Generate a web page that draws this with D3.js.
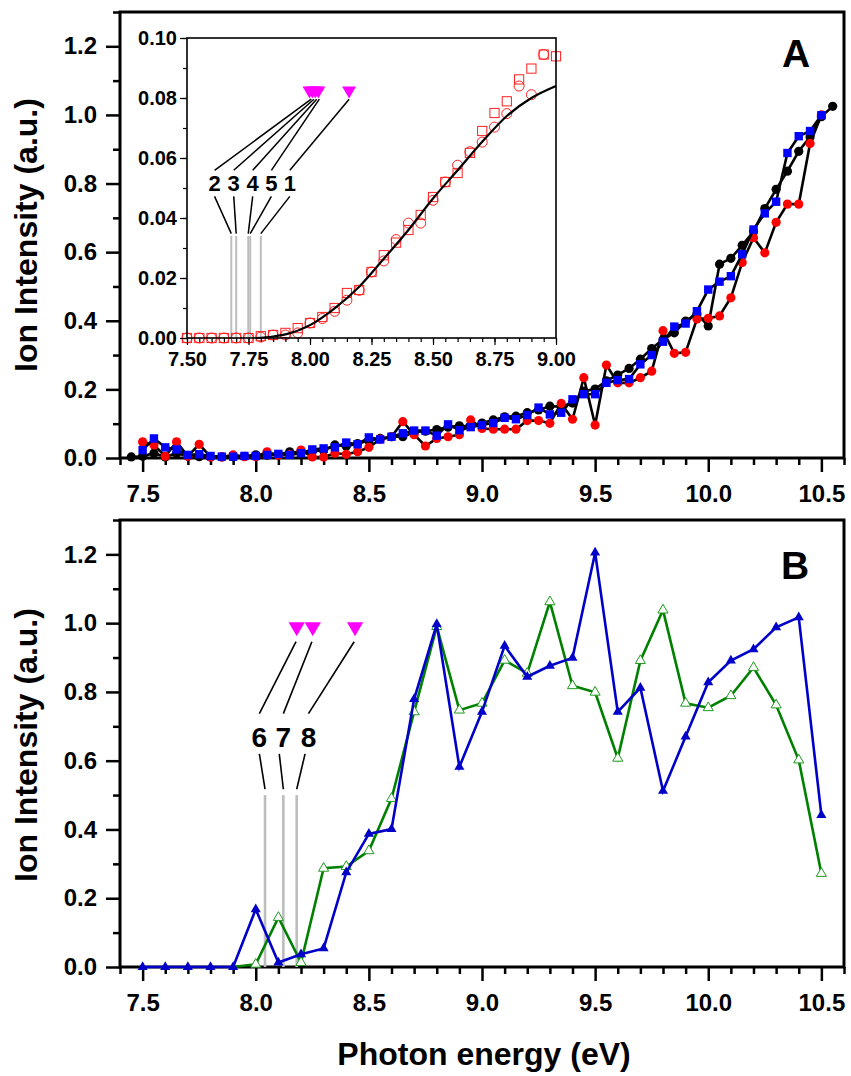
<!DOCTYPE html>
<html>
<head>
<meta charset="utf-8">
<script src="https://cdn.jsdelivr.net/npm/d3@7"></script>
<style>
  body { margin: 0; background: #fff; }
  svg text { font-family: "Liberation Sans", Arial, sans-serif; font-weight: bold; fill: #000; }
</style>
</head>
<body>
<svg id="chart" width="851" height="1076"></svg>
<script>
// ---- panel A, main data (0.05 eV steps)
const energyA = [7.45,7.50,7.55,7.60,7.65,7.70,7.75,7.80,7.85,7.90,7.95,
  8.00,8.05,8.10,8.15,8.20,8.25,8.30,8.35,8.40,8.45,
  8.50,8.55,8.60,8.65,8.70,8.75,8.80,8.85,8.90,8.95,
  9.00,9.05,9.10,9.15,9.20,9.25,9.30,9.35,9.40,9.45,
  9.50,9.55,9.60,9.65,9.70,9.75,9.80,9.85,9.90,9.95,
  10.00,10.05,10.10,10.15,10.20,10.25,10.30,10.35,10.40,10.45,
  10.50,10.55];
const blackA = [0.003,0.005,0.014,0.003,0.014,0.005,0.004,0.003,0.003,0.004,0.005,
  0.009,0.008,0.010,0.018,0.015,0.020,0.022,0.038,0.034,0.042,
  0.050,0.057,0.062,0.062,0.075,0.078,0.083,0.090,0.094,0.092,
  0.102,0.111,0.120,0.122,0.132,0.140,0.151,0.150,0.160,0.195,
  0.201,0.225,0.242,0.261,0.288,0.319,0.345,0.365,0.399,0.420,
  0.385,0.565,0.582,0.620,0.660,0.727,0.783,0.836,0.894,0.936,
  0.995,1.025];
const blueA = [null,0.023,0.057,0.031,0.025,0.009,0.011,0.006,0.004,0.004,0.006,
  0.006,0.009,0.012,0.009,0.014,0.025,0.028,0.031,0.045,0.040,
  0.060,0.054,0.062,0.072,0.080,0.080,0.065,0.098,0.081,0.090,
  0.096,0.102,0.117,0.113,0.125,0.147,0.127,0.132,0.171,0.186,
  0.186,0.219,0.227,0.230,0.273,0.300,0.339,0.383,0.392,0.428,
  0.491,0.514,0.530,0.594,0.666,0.713,0.747,0.889,0.938,0.953,
  0.999,null];
const redA = [null,0.047,0.038,0.005,0.047,0.005,0.040,0.003,0.003,0.009,0.004,
  0.004,0.018,0.008,0.010,0.023,0.003,0.003,0.014,0.011,0.018,
  0.031,0.055,0.062,0.106,0.068,0.035,0.057,0.062,0.068,0.111,
  0.086,0.084,0.084,0.084,0.109,0.109,0.101,0.159,0.113,0.234,
  0.096,0.271,0.219,0.219,0.234,0.253,0.371,0.305,0.308,0.405,
  0.407,0.414,0.467,0.570,0.642,0.598,0.687,0.740,0.740,0.917,
  1.000,null];

// ---- inset data
const insetE = [7.50,7.55,7.60,7.65,7.70,7.75,7.80,7.85,7.90,7.95,
  8.00,8.05,8.10,8.15,8.20,8.25,8.30,8.35,8.40,8.45,
  8.50,8.55,8.60,8.65,8.70,8.75,8.80,8.85,8.90,8.95,9.00];
const insetSquares = [0,0,0,0,0,0,0.0006,0.001,0.0017,0.0033,
  0.005,0.007,0.010,0.015,0.016,0.022,0.0276,0.0318,0.036,0.041,
  0.047,0.052,0.055,0.0617,0.069,0.075,0.0789,0.0862,0.0898,0.0945,0.0939];
const insetCircles = [0,0,0,0,0,0,0.0003,0.001,0.001,0.0017,
  0.005,0.0065,0.0089,0.0126,0.0159,0.022,0.0257,0.0328,0.0383,0.0383,
  0.0459,0.052,0.0576,0.0621,0.0653,0.0703,0.0748,0.084,0.0811,0.0945,null];
const fitE = [7.78,7.85,7.90,8.00,8.10,8.20,8.30,8.40,8.50,8.60,8.70,8.80,8.90,9.00];
const fitV = [0,0.0005,0.0012,0.0043,0.0099,0.0171,0.0264,0.0360,0.0465,0.0559,0.0654,0.0740,0.0800,0.0840];

// inset annotations (data units of the inset)
const insetLabels = ["2","3","4","5","1"];
const insetLabelE = [7.612,7.690,7.767,7.843,7.918];
const insetGreyE = [7.680,7.700,7.749,7.757,7.800];
const insetTriE = [8.005,8.016,8.027,8.038,8.159];
const insetMarkE = [7.998,8.010,8.022,8.034,8.159];

// ---- panel B data (0.1 eV steps)
const energyB = [7.5,7.6,7.7,7.8,7.9,8.0,8.1,8.2,8.3,8.4,8.5,8.6,8.7,8.8,8.9,
  9.0,9.1,9.2,9.3,9.4,9.5,9.6,9.7,9.8,9.9,10.0,10.1,10.2,10.3,10.4,10.5];
const blueB = [0,0,0,0,0,0.168,0.013,0.037,0.054,0.275,0.387,0.401,0.779,0.997,0.582,
  0.742,0.934,0.844,0.876,0.899,1.205,0.742,0.812,0.512,0.670,0.828,0.891,0.924,0.988,1.017,0.442];
const greenB = [null,null,null,null,0,0.008,0.144,0.013,0.287,0.292,0.338,0.490,0.742,0.990,0.747,
  0.767,0.892,0.854,1.062,0.818,0.799,0.607,0.891,1.038,0.767,0.754,0.789,0.871,0.762,0.602,0.272];

const bLabels = ["6","7","8"];
const bLabelE = [8.016,8.122,8.233];
const bLowE = [8.016,8.104,8.218];
const bGreyE = [8.041,8.122,8.181];
const bTriE = [8.178,8.248,8.435];
const bMarkE = [8.181,8.252,8.439];

const xMajor = [7.5,8.0,8.5,9.0,9.5,10.0,10.5];
const xMinor = [7.4,7.6,7.7,7.8,7.9,8.1,8.2,8.3,8.4,8.6,8.7,8.8,8.9,9.1,9.2,9.3,9.4,
  9.6,9.7,9.8,9.9,10.1,10.2,10.3,10.4,10.6];
const yMajor = [0,0.2,0.4,0.6,0.8,1.0,1.2];
const yMinor = [0.1,0.3,0.5,0.7,0.9,1.1,1.3];
const inXMajor = [7.5,7.75,8.0,8.25,8.5,8.75,9.0];
const inYMajor = [0,0.02,0.04,0.06,0.08,0.10];

const svg = d3.select("#chart");

const xA = d3.scaleLinear().domain([7.4, 10.6]).range([120, 844]);
const yA = d3.scaleLinear().domain([0, 1.3]).range([458, 12]);
const yB = d3.scaleLinear().domain([0, 1.3]).range([967, 520]);
const xI = d3.scaleLinear().domain([7.5, 9.0]).range([187, 556]);
const yI = d3.scaleLinear().domain([0, 0.10]).range([338, 38]);

function styleAxis(g, w, fs) {
  g.select(".domain").remove();
  g.selectAll(".tick line").attr("stroke", "#000").attr("stroke-width", w);
  g.selectAll("text").style("font-size", fs + "px");
}

function mainAxes(y, top, bottom) {
  const gx = svg.append("g").attr("transform", "translate(0," + bottom + ")");
  gx.append("g").call(d3.axisBottom(xA).tickValues(xMinor).tickSize(7).tickFormat(""))
    .call(g => styleAxis(g, 2.5, 24));
  gx.append("g").call(d3.axisBottom(xA).tickValues(xMajor).tickSize(14).tickPadding(13)
      .tickFormat(d3.format(".1f")))
    .call(g => styleAxis(g, 2.5, 24));
  const gy = svg.append("g").attr("transform", "translate(120,0)");
  gy.append("g").call(d3.axisLeft(y).tickValues(yMinor).tickSize(7).tickFormat(""))
    .call(g => styleAxis(g, 2.5, 24));
  gy.append("g").call(d3.axisLeft(y).tickValues(yMajor).tickSize(14).tickPadding(9)
      .tickFormat(d3.format(".1f")))
    .call(g => styleAxis(g, 2.5, 24));
  svg.append("rect").attr("x", 120).attr("y", top).attr("width", 724).attr("height", bottom - top)
    .attr("fill", "none").attr("stroke", "#000").attr("stroke-width", 3);
}

mainAxes(yA, 12, 458);
mainAxes(yB, 520, 967);

// ---- panel A series
const lineA = d3.line().defined(d => d[1] != null).x(d => xA(d[0])).y(d => yA(d[1]));
function seriesA(vals, color, shape) {
  const pts = energyA.map((e, i) => [e, vals[i]]);
  svg.append("path").datum(pts).attr("d", lineA)
    .attr("fill", "none").attr("stroke", "#000").attr("stroke-width", 2.6);
  const p = pts.filter(d => d[1] != null);
  if (shape === "circle") {
    svg.append("g").selectAll("circle").data(p).join("circle")
      .attr("cx", d => xA(d[0])).attr("cy", d => yA(d[1])).attr("r", 4.6).attr("fill", color);
  } else {
    svg.append("g").selectAll("rect").data(p).join("rect")
      .attr("x", d => xA(d[0]) - 4.2).attr("y", d => yA(d[1]) - 4.2)
      .attr("width", 8.4).attr("height", 8.4).attr("fill", color);
  }
}
seriesA(blackA, "#000", "circle");
seriesA(redA, "#ff0000", "circle");
seriesA(blueA, "#0000ff", "square");

svg.append("text").attr("x", 796).attr("y", 67).attr("text-anchor", "middle")
  .style("font-size", "39px").text("A");
svg.append("text").attr("x", 795).attr("y", 579).attr("text-anchor", "middle")
  .style("font-size", "39px").text("B");

// ---- inset
svg.append("rect").attr("x", 187).attr("y", 38).attr("width", 369).attr("height", 300).attr("fill", "#fff");

svg.append("g").selectAll("line").data(insetGreyE).join("line")
  .attr("x1", d => xI(d)).attr("x2", d => xI(d)).attr("y1", yI(0.034)).attr("y2", yI(0))
  .attr("stroke", "#bdbdbd").attr("stroke-width", 2);

svg.append("g").selectAll("rect").data(insetE.map((e, i) => [e, insetSquares[i]]).filter(d => d[1] != null))
  .join("rect")
  .attr("x", d => xI(d[0]) - 4.6).attr("y", d => yI(d[1]) - 4.6).attr("width", 9.2).attr("height", 9.2)
  .attr("fill", "none").attr("stroke", "#ff2020").attr("stroke-width", 1);
svg.append("g").selectAll("circle").data(insetE.map((e, i) => [e, insetCircles[i]]).filter(d => d[1] != null))
  .join("circle")
  .attr("cx", d => xI(d[0])).attr("cy", d => yI(d[1])).attr("r", 5)
  .attr("fill", "none").attr("stroke", "#ff2020").attr("stroke-width", 1);

svg.append("path").datum(fitE.map((e, i) => [e, fitV[i]]))
  .attr("d", d3.line().x(d => xI(d[0])).y(d => yI(d[1])).curve(d3.curveMonotoneX))
  .attr("fill", "none").attr("stroke", "#000").attr("stroke-width", 2.2);

const gix = svg.append("g").attr("transform", "translate(0,338)");
gix.append("g").call(d3.axisBottom(xI).ticks(30).tickSize(4).tickFormat(""))
  .call(g => styleAxis(g, 1.2, 20));
gix.append("g").call(d3.axisBottom(xI).tickValues(inXMajor).tickSize(7).tickPadding(7)
    .tickFormat(d3.format(".2f")))
  .call(g => styleAxis(g, 1.2, 20));
const giy = svg.append("g").attr("transform", "translate(187,0)");
giy.append("g").call(d3.axisLeft(yI).ticks(10).tickSize(4).tickFormat(""))
  .call(g => styleAxis(g, 1.2, 20));
giy.append("g").call(d3.axisLeft(yI).tickValues(inYMajor).tickSize(7).tickPadding(3)
    .tickFormat(d3.format(".2f")))
  .call(g => styleAxis(g, 1.2, 20));
svg.append("rect").attr("x", 187).attr("y", 38).attr("width", 369).attr("height", 300)
  .attr("fill", "none").attr("stroke", "#000").attr("stroke-width", 1.6);

// inset annotation
const downTri = s => d3.symbol(d3.symbolTriangle, s);
svg.append("g").selectAll("path").data(insetMarkE).join("path")
  .attr("d", downTri(85))
  .attr("transform", d => "translate(" + xI(d) + "," + yI(0.0825) + ") rotate(180)")
  .attr("fill", "#ff00ff");
const annI = svg.append("g").attr("stroke", "#000").attr("stroke-width", 1.5);
insetLabels.forEach((t, i) => {
  annI.append("line").attr("x1", xI(insetLabelE[i])).attr("y1", yI(0.0559))
    .attr("x2", xI(insetTriE[i])).attr("y2", yI(0.0796));
  annI.append("line").attr("x1", xI(insetLabelE[i])).attr("y1", yI(0.0472))
    .attr("x2", xI(insetGreyE[i])).attr("y2", yI(0.0348));
  svg.append("text").attr("x", xI(insetLabelE[i])).attr("y", yI(0.049))
    .attr("text-anchor", "middle").style("font-size", "22px").text(t);
});

// ---- panel B series
svg.append("g").selectAll("line").data(bGreyE).join("line")
  .attr("x1", d => xA(d)).attr("x2", d => xA(d)).attr("y1", yB(0.5)).attr("y2", yB(0))
  .attr("stroke", "#bdbdbd").attr("stroke-width", 2.6);

const lineB = d3.line().defined(d => d[1] != null).x(d => xA(d[0])).y(d => yB(d[1]));
const gPts = energyB.map((e, i) => [e, greenB[i]]);
const bPts = energyB.map((e, i) => [e, blueB[i]]);
svg.append("path").datum(gPts).attr("d", lineB)
  .attr("fill", "none").attr("stroke", "#008000").attr("stroke-width", 2.6);
svg.append("g").selectAll("path").data(gPts.filter(d => d[1] != null && d[0] > 7.95)).join("path")
  .attr("d", d3.symbol(d3.symbolTriangle, 44))
  .attr("transform", d => "translate(" + xA(d[0]) + "," + yB(d[1]) + ")")
  .attr("fill", "#fff").attr("stroke", "#1f9a1f").attr("stroke-width", 1);
svg.append("path").datum(bPts).attr("d", lineB)
  .attr("fill", "none").attr("stroke", "#0000c8").attr("stroke-width", 2.6);
svg.append("g").selectAll("path").data(bPts).join("path")
  .attr("d", d3.symbol(d3.symbolTriangle, 44))
  .attr("transform", d => "translate(" + xA(d[0]) + "," + yB(d[1]) + ")")
  .attr("fill", "#0000c8");

svg.append("g").selectAll("path").data(bMarkE).join("path")
  .attr("d", downTri(115))
  .attr("transform", d => "translate(" + xA(d) + "," + yB(0.989) + ") rotate(180)")
  .attr("fill", "#ff00ff");
const annB = svg.append("g").attr("stroke", "#000").attr("stroke-width", 1.6);
bLabels.forEach((t, i) => {
  annB.append("line").attr("x1", xA(bLabelE[i])).attr("y1", yB(0.737))
    .attr("x2", xA(bTriE[i])).attr("y2", yB(0.946));
  annB.append("line").attr("x1", xA(bLowE[i])).attr("y1", yB(0.620))
    .attr("x2", xA(bGreyE[i])).attr("y2", yB(0.517));
  svg.append("text").attr("x", xA(bLabelE[i])).attr("y", yB(0.640))
    .attr("text-anchor", "middle").style("font-size", "28px").text(t);
});

// ---- axis titles
svg.append("text").attr("transform", "translate(37,235) rotate(-90)")
  .attr("text-anchor", "middle").style("font-size", "32px").text("Ion Intensity (a.u.)");
svg.append("text").attr("transform", "translate(37,745) rotate(-90)")
  .attr("text-anchor", "middle").style("font-size", "32px").text("Ion Intensity (a.u.)");
svg.append("text").attr("x", 484).attr("y", 1065)
  .attr("text-anchor", "middle").style("font-size", "32px").text("Photon energy (eV)");
</script>
</body>
</html>
